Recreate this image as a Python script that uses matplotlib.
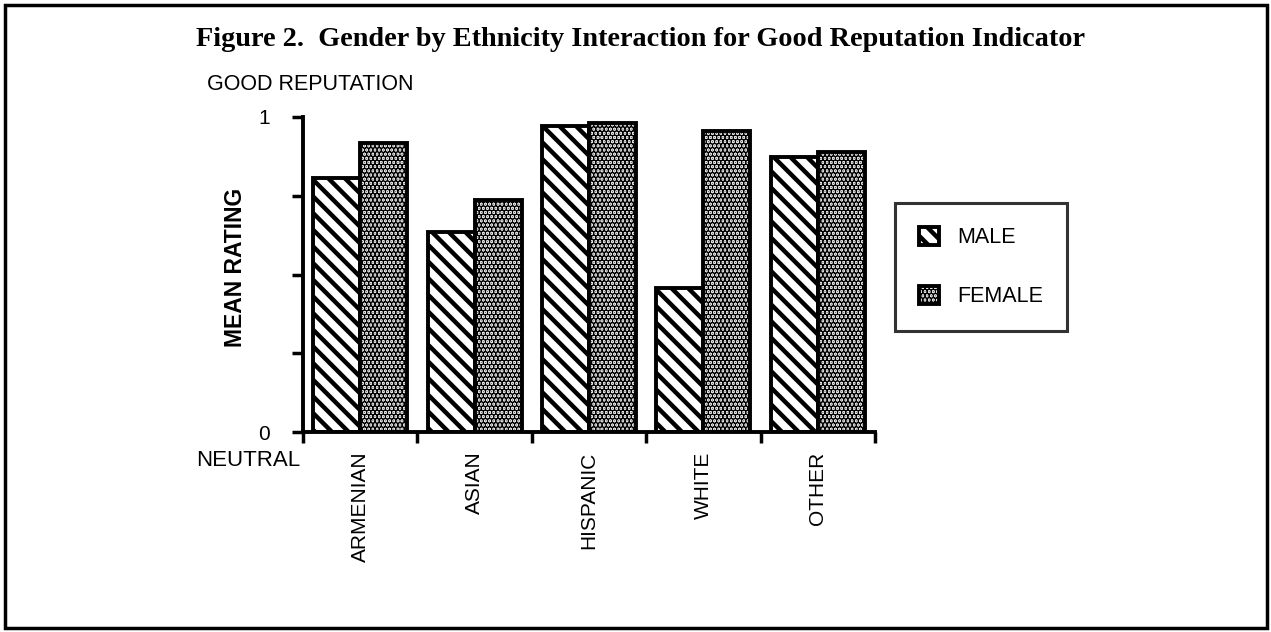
import numpy as np
import matplotlib
matplotlib.use('Agg')
import matplotlib.pyplot as plt
from matplotlib.patches import Rectangle

categories = ['ARMENIAN', 'ASIAN', 'HISPANIC', 'WHITE', 'OTHER']
male = [0.806, 0.635, 0.971, 0.457, 0.873]
female = [0.917, 0.737, 0.981, 0.956, 0.889]

plt.rcParams['font.family'] = ['Liberation Sans', 'DejaVu Sans']
plt.rcParams['hatch.linewidth'] = 3.2

fig = plt.figure(figsize=(12.71, 6.32), dpi=100)
ax = fig.add_axes([303 / 1271, 1 - 432 / 632, (875 - 303) / 1271, (432 - 117) / 632])

x = np.arange(len(categories)) + 0.5
w = 0.41
ax.bar(x - w / 2, male, w, facecolor='white', edgecolor='black', linewidth=2.8,
       hatch='\\\\', label='MALE')
ax.bar(x + w / 2, female, w, facecolor='#e4e4e4', edgecolor='black', linewidth=2.8,
       hatch='....', label='FEMALE')

ax.set_xlim(0, len(categories))
ax.set_ylim(0, 1)
for s in ['top', 'right']:
    ax.spines[s].set_visible(False)
for s in ['left', 'bottom']:
    ax.spines[s].set_linewidth(2.8)

# group boundaries as ticks, names as minor labels
ax.set_xticks(np.arange(len(categories) + 1))
ax.set_xticklabels([])
ax.set_xticks(x, minor=True)
ax.set_xticklabels(categories, minor=True, rotation=90, fontsize=15, va='top')
ax.tick_params(axis='x', which='major', length=8, width=2.5, direction='out')
ax.tick_params(axis='x', which='minor', length=0, pad=14)

ax.set_yticks([0, 0.25, 0.5, 0.75, 1])
ax.set_yticklabels(['0', '', '', '', '1'], fontsize=15)
ax.tick_params(axis='y', length=8, width=2.5, direction='out', pad=16)

fig.text(0.504, 1 - 40 / 632, 'Figure 2.  Gender by Ethnicity Interaction for Good Reputation Indicator',
         ha='center', va='center', fontsize=20.35, fontweight='bold',
         family=['Liberation Serif', 'DejaVu Serif'])
fig.text(207 / 1271, 1 - 85 / 632, 'GOOD REPUTATION', ha='left', va='center', fontsize=15.5)
fig.text(196 / 1271, 1 - 461 / 632, 'NEUTRAL', ha='left', va='center', fontsize=16)
fig.text(236 / 1271, 1 - 267 / 632, 'MEAN RATING', ha='center', va='center', rotation=90,
         fontsize=16.5, fontweight='bold')

leg = ax.legend(loc='upper left', bbox_to_anchor=(895 / 1271, 1 - 203 / 632),
                bbox_transform=fig.transFigure, fontsize=15.5, frameon=True, fancybox=False,
                handlelength=0.95, handleheight=0.9, handletextpad=0.85,
                labelspacing=1.75, borderpad=1.1, borderaxespad=0)
leg.get_frame().set_edgecolor('black')
leg.get_frame().set_linewidth(2.2)

fig.patches.append(Rectangle((5 / 1271, 4 / 632), 1262 / 1271, 623 / 632,
                             transform=fig.transFigure, fill=False, edgecolor='black',
                             linewidth=2.5))

fig.savefig('out.png', dpi=100)
